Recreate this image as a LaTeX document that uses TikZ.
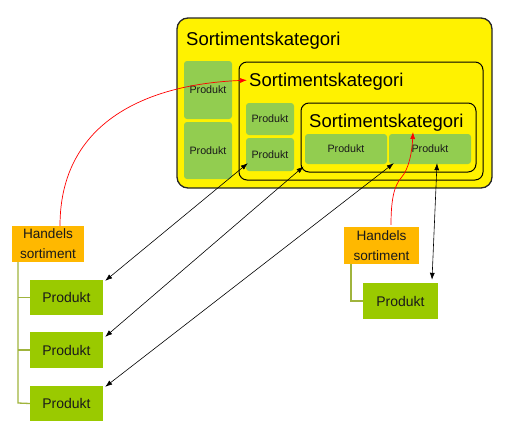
\documentclass[tikz,border=0pt]{standalone}
\usepackage{fontspec}
\setmainfont{Liberation Sans}
\usetikzlibrary{arrows.meta,calc}
\definecolor{kgreen}{HTML}{92CD50}
\definecolor{tgreen}{HTML}{9ACA00}
\definecolor{korange}{HTML}{FFB800}
\definecolor{kline}{HTML}{A0B43C}
\definecolor{ktext}{HTML}{1A1A1A}
\begin{document}
\begin{tikzpicture}[x=1pt,y=-1pt,
  catbox/.style={draw=black,line width=1pt,fill=yellow,rounded corners=8pt,inner sep=0pt},
  cattitle/.style={anchor=base west,inner sep=0pt,font=\fontsize{18.5}{20}\selectfont,text=black},
  pbox/.style={fill=kgreen,rounded corners=3pt,inner sep=0pt,font=\fontsize{10.7}{12}\selectfont,text=ktext},
  tbox/.style={fill=tgreen,inner sep=0pt,font=\fontsize{14}{16}\selectfont,text=ktext},
  hbox/.style={fill=korange,inner sep=0pt,align=center,font=\fontsize{13.6}{20}\selectfont,text=ktext},
  treeline/.style={draw=kline,line width=1.3pt},
  link/.style={draw=black,line width=0.6pt,{Latex[length=7pt,width=5pt]}-{Latex[length=7pt,width=5pt]}},
  redlink/.style={draw=red,line width=0.7pt,-{Latex[length=7pt,width=5pt]}}]
\useasboundingbox (0,0) rectangle (513,431);
% outer category
\node[catbox,line width=1.3pt,draw=black!85,rounded corners=11pt,minimum width=315pt,minimum height=170pt] (outer) at (334.5,103) {};
\node[cattitle] (t1) at (186,45) {Sortimentskategori};
\node[pbox,minimum width=48pt,minimum height=58pt] (op1) at (208,90) {Produkt};
\node[pbox,minimum width=48pt,minimum height=57pt] (op2) at (208,150.5) {Produkt};
% middle category
\node[catbox,minimum width=244pt,minimum height=118pt] (middle) at (361,121) {};
\node[cattitle] (t2) at (249,86) {Sortimentskategori};
\node[pbox,minimum width=48pt,minimum height=32pt] (mp1) at (270,119) {Produkt};
\node[pbox,minimum width=48pt,minimum height=33pt] (mp2) at (270,154.5) {Produkt};
% inner category
\node[catbox,minimum width=175pt,minimum height=69pt] (inner) at (388.5,137.5) {};
\node[cattitle] (t3) at (309,127) {Sortimentskategori};
\node[pbox,minimum width=82pt,minimum height=30pt] (ip1) at (346,149) {Produkt};
\node[pbox,minimum width=82pt,minimum height=30pt] (ip2) at (430,149) {Produkt};
% left assortment
\node[hbox,minimum width=72pt,minimum height=36pt] (h1) at (48,244) {Handels\\sortiment};
\node[tbox,minimum width=73pt,minimum height=35pt] (lp1) at (66.5,297.5) {Produkt};
\node[tbox,minimum width=73pt,minimum height=36pt] (lp2) at (66.5,350) {Produkt};
\node[tbox,minimum width=73pt,minimum height=35pt] (lp3) at (66.5,403.5) {Produkt};
\coordinate (l0) at (18,262);
\draw[treeline] (l0) -- (18,403) -- (lp3.west);
\draw[treeline] (18,297.5) -- (lp1.west);
\draw[treeline] (18,350) -- (lp2.west);
% right assortment
\node[hbox,minimum width=75pt,minimum height=37pt] (h2) at (381.5,245.5) {Handels\\sortiment};
\node[tbox,minimum width=75pt,minimum height=36pt] (rp1) at (400.5,301) {Produkt};
\coordinate (r0) at (351,264);
\draw[treeline] (r0) -- (351,301) -- (rp1.west);
% black links
\coordinate (a1) at ($(mp2.south west)+(2,-8)$);
\coordinate (a2) at ($(inner.south west)+(3,-6)$);
\coordinate (a3) at ($(ip2.south west)+(5,-1)$);
\coordinate (a4) at ($(ip2.south)+(7,-1)$);
\coordinate (b1) at ($(lp1.north east)+(2,1)$);
\coordinate (b2) at ($(lp2.north east)+(2,5)$);
\coordinate (b3) at ($(lp3.north east)+(2,1)$);
\coordinate (b4) at ($(rp1.north)+(31.5,-3)$);
\draw[link] (b1) -- (a1);
\draw[link] (b2) -- (a2);
\draw[link] (b3) -- (a3);
\draw[link] (b4) -- (a4);
% red links
\coordinate (s1) at ($(h1.north)+(12,0)$);
\coordinate (e1) at ($(t2.west)+(-2,-1)$);
\draw[redlink] (s1) .. controls (60,120) and (150,84) .. (e1);
\coordinate (s2) at ($(h2.north)+(9.5,-2)$);
\coordinate (e2) at (413,132);
\draw[redlink] (s2) .. controls (391,200) and (394,186) .. (401,178) .. controls (409,169) and (412,152) .. (e2);
\end{tikzpicture}
\end{document}
